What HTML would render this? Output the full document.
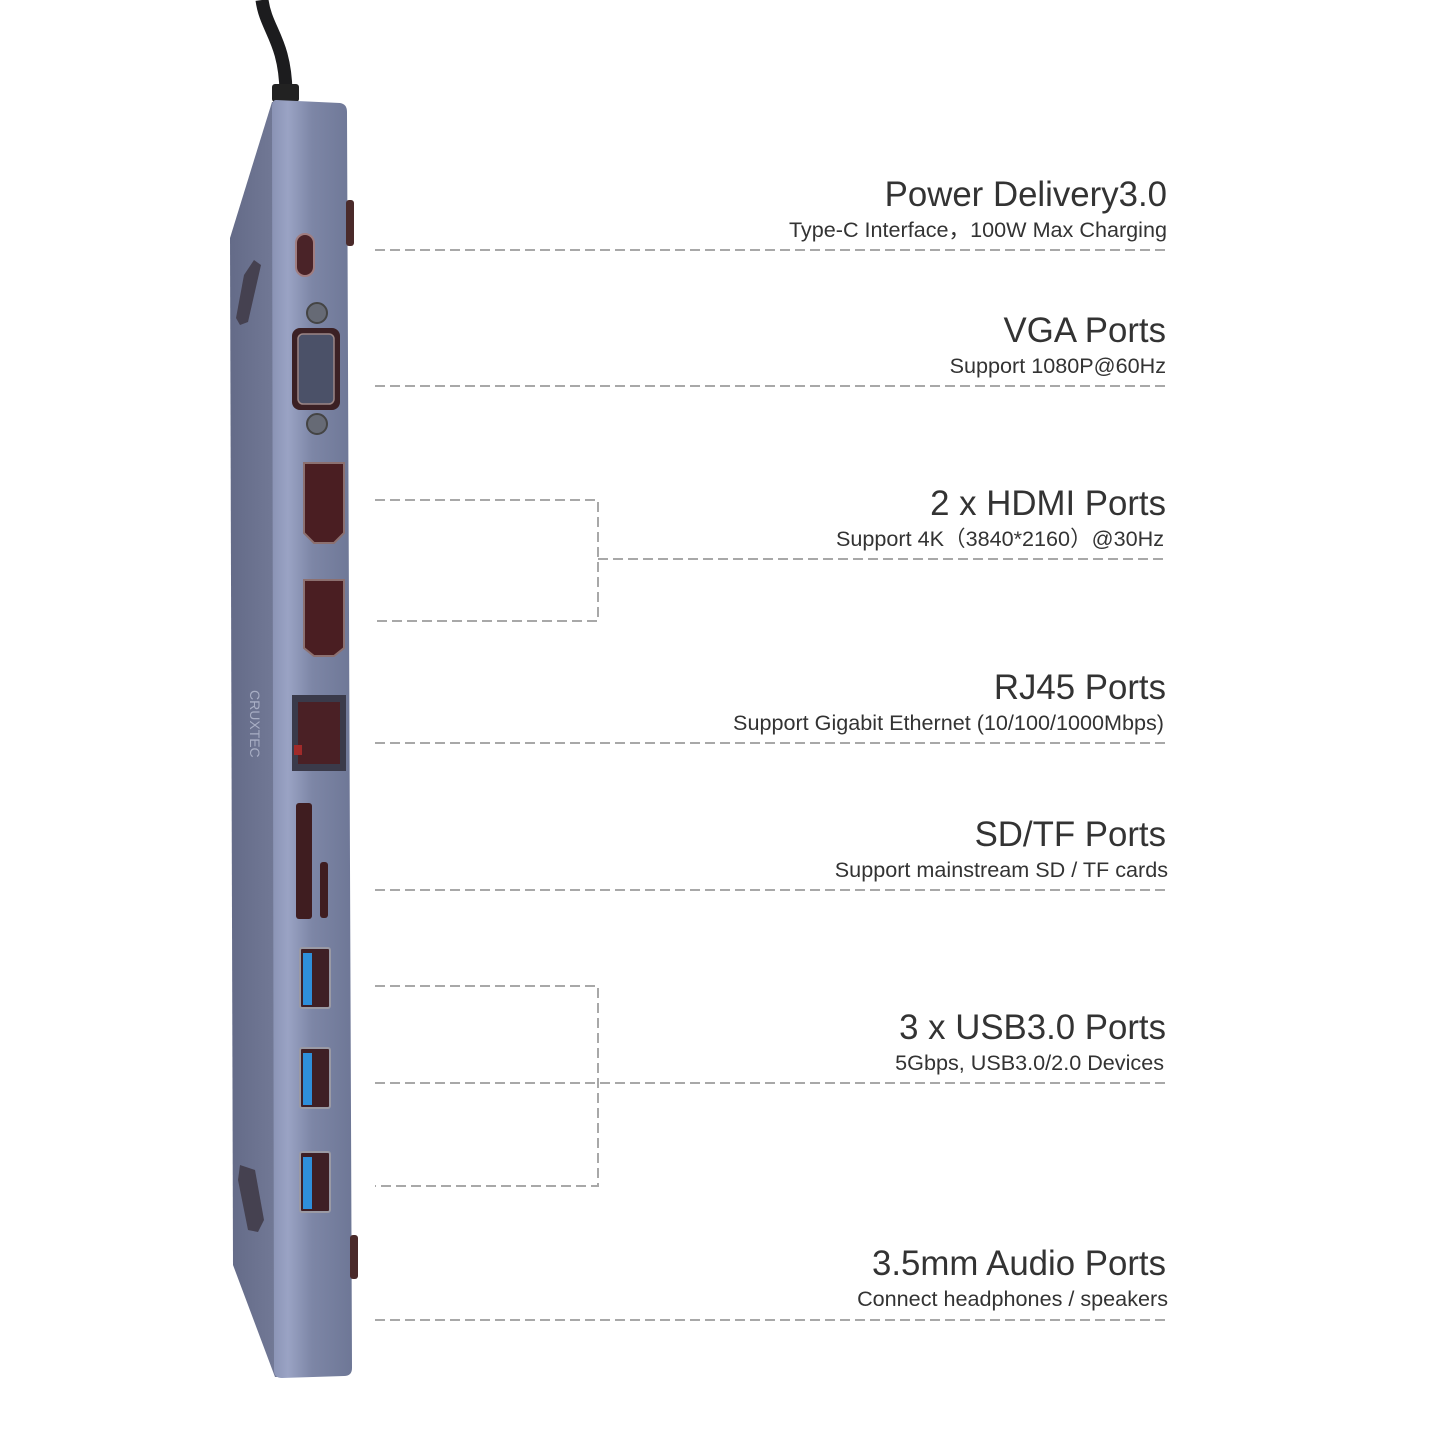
<!DOCTYPE html>
<html><head><meta charset="utf-8"><style>
html,body{margin:0;padding:0;background:#fff;}
svg{display:block}
.t{font-family:"Liberation Sans","Noto Sans CJK SC",sans-serif;fill:#333;text-anchor:end}
.h{font-size:34.8px}
.s{font-size:21.6px}
.d{stroke:#a8a8a8;stroke-width:2;stroke-dasharray:10 5;fill:none}
</style></head><body>
<svg width="1445" height="1445" viewBox="0 0 1445 1445" xmlns="http://www.w3.org/2000/svg">
<defs>
<linearGradient id="side" x1="0" x2="1" y1="0" y2="0">
<stop offset="0" stop-color="#646b88"/><stop offset="1" stop-color="#767d9a"/></linearGradient>
<linearGradient id="front" x1="0" x2="1" y1="0" y2="0">
<stop offset="0" stop-color="#8a93b5"/><stop offset="0.2" stop-color="#9aa3c4"/><stop offset="0.5" stop-color="#7d86a6"/><stop offset="1" stop-color="#6e7796"/></linearGradient>
</defs>
<path d="M262 0 C266 30 285 40 286 92" stroke="#1c1c1e" stroke-width="13" fill="none"/>
<rect x="272" y="84" width="27" height="18" rx="3" fill="#222"/>
<path d="M272 102 L230 238 L233 1265 L275 1377 L290 1377 L290 102 Z" fill="url(#side)"/>
<path d="M276 100 L340 103 Q347 104 347 112 L352 1368 Q352 1376 344 1376 L282 1378 Q274 1378 274 1370 L272 108 Q272 100 276 100 Z" fill="url(#front)"/>
<path d="M254 260 L261 265 L248 322 L240 325 L236 318 L244 275 Z" fill="#454150"/>
<path d="M240 1165 L255 1170 L264 1220 L258 1232 L248 1230 L238 1180 Z" fill="#454150"/>
<rect x="346" y="200" width="8" height="46" rx="3" fill="#4a2a2a"/>
<rect x="350" y="1235" width="8" height="44" rx="3" fill="#4a2a2a"/>
<rect x="296" y="234" width="18" height="42" rx="9" fill="#4a2328" stroke="#a07d80" stroke-width="2"/>
<circle cx="317" cy="313" r="10" fill="#666a75" stroke="#444" stroke-width="2"/>
<circle cx="317" cy="424" r="10" fill="#666a75" stroke="#444" stroke-width="2"/>
<rect x="292" y="328" width="48" height="82" rx="8" fill="#3b2024"/>
<rect x="298" y="334" width="36" height="70" rx="5" fill="#4b5168" stroke="#9b8686" stroke-width="1.5"/>
<path d="M304 463 L344 463 L344 533 L334 543 L314 543 L304 533 Z" fill="#4a1e22" stroke="#8c7070" stroke-width="2"/>
<path d="M304 580 L344 580 L344 648 L334 656 L314 656 L304 648 Z" fill="#4a1e22" stroke="#8c7070" stroke-width="2"/>
<rect x="292" y="695" width="54" height="76" fill="#3a3a4a"/>
<rect x="298" y="702" width="42" height="62" fill="#4a2025"/>
<rect x="294" y="745" width="8" height="10" fill="#a02a2a"/>
<text x="250" y="690" transform="rotate(90 250 690)" font-family="Liberation Sans,sans-serif" font-size="14" fill="#a8aec4">CRUXTEC</text>
<rect x="296" y="803" width="16" height="116" rx="3" fill="#3f1d20"/>
<rect x="320" y="862" width="8" height="56" rx="3" fill="#3f1d20"/>
<g>
<rect x="300" y="948" width="30" height="60" rx="2" fill="#3e1f25" stroke="#9a9aa5" stroke-width="2"/>
<rect x="303" y="953" width="9" height="52" fill="#2e8fdb"/>
<rect x="300" y="1048" width="30" height="60" rx="2" fill="#3e1f25" stroke="#9a9aa5" stroke-width="2"/>
<rect x="303" y="1053" width="9" height="52" fill="#2e8fdb"/>
<rect x="300" y="1152" width="30" height="60" rx="2" fill="#3e1f25" stroke="#9a9aa5" stroke-width="2"/>
<rect x="303" y="1157" width="9" height="52" fill="#2e8fdb"/>
</g>
<line class="d" x1="375" y1="250" x2="1167" y2="250"/>
<line class="d" x1="375" y1="386" x2="1167" y2="386"/>
<polyline class="d" points="375,500 598,500 598,621 375,621"/>
<line class="d" x1="598" y1="559" x2="1167" y2="559"/>
<line class="d" x1="375" y1="743" x2="1167" y2="743"/>
<line class="d" x1="375" y1="890" x2="1167" y2="890"/>
<polyline class="d" points="375,986 598,986 598,1186 375,1186"/>
<line class="d" x1="375" y1="1083" x2="1167" y2="1083"/>
<line class="d" x1="375" y1="1320" x2="1167" y2="1320"/>
<text class="t h" x="1167" y="206">Power Delivery3.0</text>
<text class="t s" x="1167" y="237">Type-C Interface，100W Max Charging</text>
<text class="t h" x="1166" y="342">VGA Ports</text>
<text class="t s" x="1166" y="373">Support 1080P@60Hz</text>
<text class="t h" x="1166" y="515">2 x HDMI Ports</text>
<text class="t s" x="1164" y="546">Support 4K（3840*2160）@30Hz</text>
<text class="t h" x="1166" y="699">RJ45 Ports</text>
<text class="t s" x="1164" y="730">Support Gigabit Ethernet (10/100/1000Mbps)</text>
<text class="t h" x="1166" y="846">SD/TF Ports</text>
<text class="t s" x="1168" y="877">Support mainstream SD / TF cards</text>
<text class="t h" x="1166" y="1039">3 x USB3.0 Ports</text>
<text class="t s" x="1164" y="1070">5Gbps, USB3.0/2.0 Devices</text>
<text class="t h" x="1166" y="1275">3.5mm Audio Ports</text>
<text class="t s" x="1168" y="1306">Connect headphones / speakers</text>
</svg>
</body></html>
